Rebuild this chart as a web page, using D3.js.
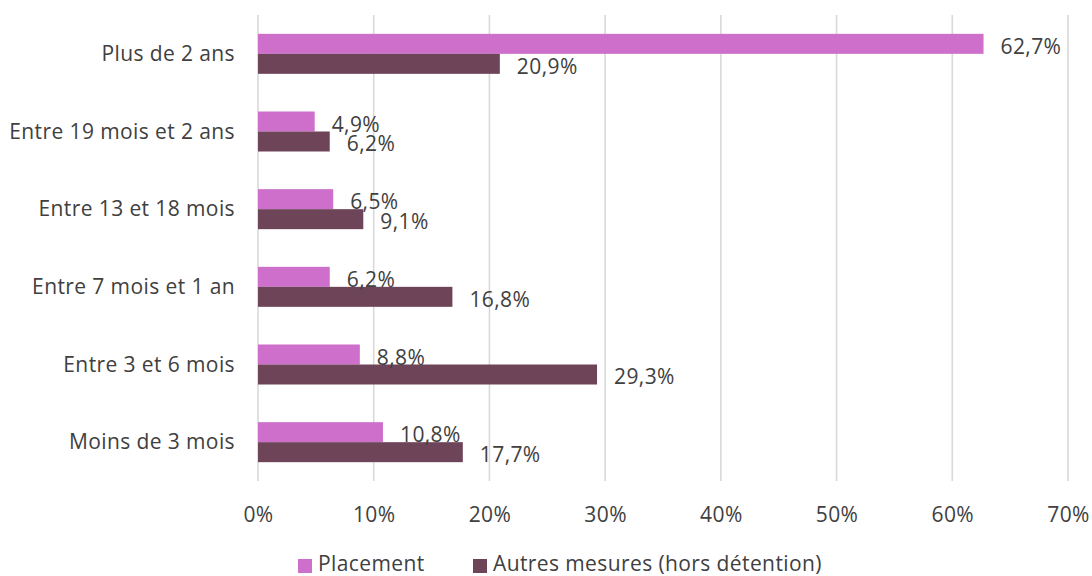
<!DOCTYPE html>
<html><head><meta charset="utf-8">
<script src="https://cdn.jsdelivr.net/npm/d3@7"></script>
<style>
html,body{margin:0;padding:0;background:#fff;}
svg{display:block;}
text{font-family:"Open Sans",sans-serif;fill:#404040;letter-spacing:0.4px;}
</style></head>
<body><svg id="c" width="1092" height="576"></svg>
<script>
const categories = ["Plus de 2 ans","Entre 19 mois et 2 ans","Entre 13 et 18 mois","Entre 7 mois et 1 an","Entre 3 et 6 mois","Moins de 3 mois"];
const seriesNames = ["Placement","Autres mesures (hors détention)"];
const placement = [62.7,4.9,6.5,6.2,8.8,10.8];
const autres = [20.9,6.2,9.1,16.8,29.3,17.7];
const ticks = [0,10,20,30,40,50,60,70];
const colors = ["#CD6FCB","#6E4459"];

const svg = d3.select("#c");
const mL = 258, mR = 1068, mT = 15, mB = 481;
const x = d3.scaleLinear().domain([0,70]).range([mL,mR]);
const y = d3.scaleBand().domain(categories).range([mT,mB]).paddingInner(0.485).paddingOuter(0.2425);
const y1 = d3.scaleBand().domain(seriesNames).range([0,y.bandwidth()]);

// gridlines
svg.append("g").selectAll("line").data(ticks).join("line")
  .attr("x1",d=>x(d)).attr("x2",d=>x(d)).attr("y1",mT).attr("y2",mB)
  .attr("stroke","#D9D9D9").attr("stroke-width",1.6);

const fmt = v => v.toFixed(1).replace(".",",")+"%";
const fs = 21;
const data = categories.map((c,i)=>({c, vals:[placement[i],autres[i]]}));
const g = svg.append("g").selectAll("g").data(data).join("g")
  .attr("transform",d=>`translate(0,${y(d.c)})`);
g.selectAll("rect").data(d=>d.vals.map((v,k)=>({v,k}))).join("rect")
  .attr("x",x(0)).attr("y",d=>y1(seriesNames[d.k])).attr("height",y1.bandwidth())
  .attr("width",d=>x(d.v)-x(0)).attr("fill",d=>colors[d.k]);
g.selectAll("text").data(d=>d.vals.map((v,k)=>({v,k}))).join("text")
  .attr("x",d=>x(d.v)+17).attr("y",d=>y1(seriesNames[d.k])+y1.bandwidth())
  .attr("font-size",fs).text(d=>fmt(d.v));

// y axis labels
const yAxis = d3.axisLeft(y).tickSize(0).tickPadding(0);
const ya = svg.append("g").attr("transform",`translate(235,0)`).call(yAxis);
ya.select(".domain").remove();
ya.selectAll("text").attr("font-size",fs).attr("font-family",null).attr("fill",null).attr("dy",null).attr("y",7);

// x axis labels
const xAxis = d3.axisBottom(x).tickValues(ticks).tickSize(0).tickPadding(0).tickFormat(d=>d+"%");
const xa = svg.append("g").attr("transform",`translate(0,522)`).call(xAxis);
xa.select(".domain").remove();
xa.selectAll("text").attr("font-size",fs).attr("font-family",null).attr("fill",null).attr("dy",null).attr("y",0);

// legend
const leg = svg.append("g").attr("transform","translate(0,566)");
const lx = [298,473];
seriesNames.forEach((s,i)=>{
  leg.append("rect").attr("x",lx[i]).attr("y",-7).attr("width",14).attr("height",14).attr("fill",colors[i]);
  leg.append("text").attr("x",lx[i]+20).attr("y",5).attr("font-size",fs).text(s);
});
</script></body></html>
